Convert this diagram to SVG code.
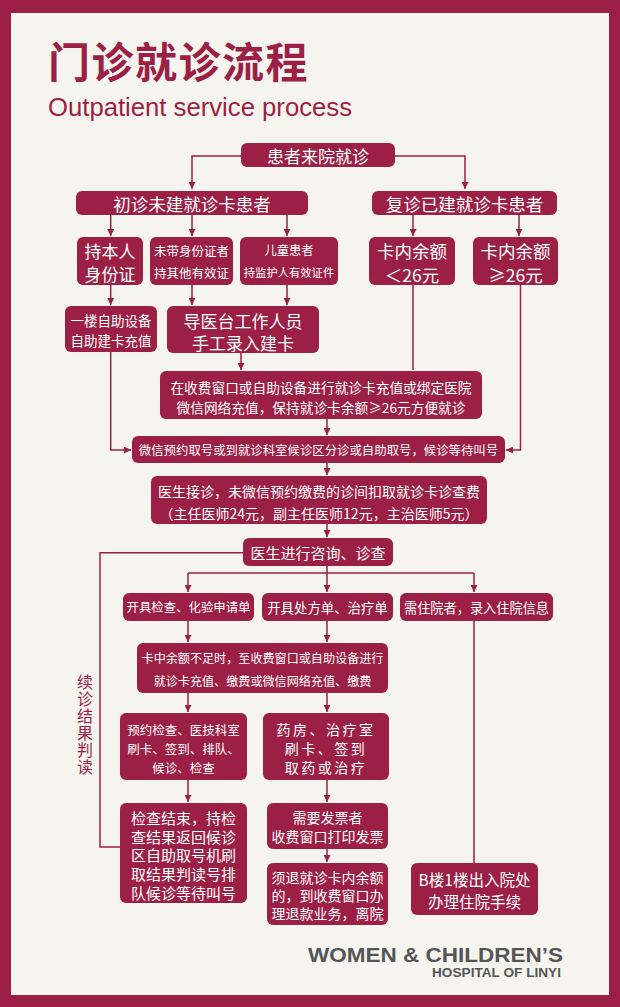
<svg xmlns="http://www.w3.org/2000/svg" width="620" height="1007" viewBox="0 0 620 1007">
<style>
.bx{fill:#9c1f45}
.t{fill:#fff;font-family:"Noto Sans CJK SC","Liberation Sans",sans-serif;text-anchor:middle;dominant-baseline:central}
.c{fill:none;stroke:#9c1f45;stroke-width:1.5}
</style>
<defs>
<marker id="ah" viewBox="0 0 8 8" refX="8" refY="4" markerWidth="7" markerHeight="7" markerUnits="userSpaceOnUse" orient="auto">
<path d="M0,0 L8,4 L0,8 Z" fill="#9c1f45"/>
</marker>
</defs>
<rect x="0" y="0" width="620" height="1007" fill="#9e1f46"/>
<rect x="11" y="13" width="598" height="982" fill="#f6f4ee"/>
<g id="title">
<text x="48" y="59" fill="#9c1f45" font-family="'Noto Sans CJK SC',sans-serif" font-weight="bold" font-size="42" letter-spacing="1.5" dominant-baseline="central">门诊就诊流程<tspan x="48" y="107" font-family="'Liberation Sans',sans-serif" font-weight="normal" font-size="25" letter-spacing="0" dominant-baseline="auto" textLength="304" lengthAdjust="spacingAndGlyphs">Outpatient service process</tspan></text>
</g>

<g id="connectors">
<path class="c" d="M241,156 H192 V189" marker-end="url(#ah)"/>
<path class="c" d="M395,156 H465 V189" marker-end="url(#ah)"/>
<path class="c" d="M110.7,215 V236" marker-end="url(#ah)"/>
<path class="c" d="M192,215 V236" marker-end="url(#ah)"/>
<path class="c" d="M287,215 V236" marker-end="url(#ah)"/>
<path class="c" d="M413,215 V236" marker-end="url(#ah)"/>
<path class="c" d="M519,215 V236" marker-end="url(#ah)"/>
<path class="c" d="M110.7,285 V305" marker-end="url(#ah)"/>
<path class="c" d="M192,285 V305" marker-end="url(#ah)"/>
<path class="c" d="M287,285 V305" marker-end="url(#ah)"/>
<path class="c" d="M241,353 V370" marker-end="url(#ah)"/>
<path class="c" d="M413,285 V370"/>
<path class="c" d="M327,419 V435" marker-end="url(#ah)"/>
<path class="c" d="M110.7,352 V450 H131" marker-end="url(#ah)"/>
<path class="c" d="M520.5,285 V450 H506" marker-end="url(#ah)"/>
<path class="c" d="M327,463 V475" marker-end="url(#ah)"/>
<path class="c" d="M327,524 V537" marker-end="url(#ah)"/>
<path class="c" d="M327,566 V592" marker-end="url(#ah)"/>
<path class="c" d="M188,573 H474"/>
<path class="c" d="M188,573 V592" marker-end="url(#ah)"/>
<path class="c" d="M474,573 V592" marker-end="url(#ah)"/>
<path class="c" d="M188,621 V642" marker-end="url(#ah)"/>
<path class="c" d="M327,621 V642" marker-end="url(#ah)"/>
<path class="c" d="M188,693 V712" marker-end="url(#ah)"/>
<path class="c" d="M327,693 V712" marker-end="url(#ah)"/>
<path class="c" d="M188,780 V802" marker-end="url(#ah)"/>
<path class="c" d="M327,780 V802" marker-end="url(#ah)"/>
<path class="c" d="M327,849 V862" marker-end="url(#ah)"/>
<path class="c" d="M474,621 V863"/>
<path class="c" d="M120,847 H100 V552.7 H243"/>
</g>

<g id="n1"><rect class="bx" x="241" y="143" width="154" height="24" rx="6"/><text class="t" x="318" y="155" font-size="17">患者来院就诊</text></g>
<g id="n2"><rect class="bx" x="76" y="191" width="232" height="24" rx="6"/><text class="t" x="192" y="203" font-size="17.5">初诊未建就诊卡患者</text></g>
<g id="n3"><rect class="bx" x="372" y="191" width="185" height="24" rx="6"/><text class="t" x="464.5" y="203" font-size="17.5">复诊已建就诊卡患者</text></g>
<g id="n4"><rect class="bx" x="77" y="237" width="66" height="48" rx="6"/><text class="t" font-size="17"><tspan x="110" y="250">持本人</tspan><tspan x="110" y="272.5">身份证</tspan></text></g>
<g id="n5"><rect class="bx" x="150" y="237" width="83" height="48" rx="6"/><text class="t" font-size="12.5"><tspan x="191.5" y="250">未带身份证者</tspan><tspan x="191.5" y="272">持其他有效证</tspan></text></g>
<g id="n6"><rect class="bx" x="240" y="237" width="98" height="48" rx="6"/><text class="t" font-size="12.3"><tspan x="289" y="250">儿童患者</tspan><tspan x="289" y="272" font-size="11.3">持监护人有效证件</tspan></text></g>
<g id="n7"><rect class="bx" x="369" y="237" width="86" height="48" rx="6"/><text class="t" font-size="17.5"><tspan x="412" y="250">卡内余额</tspan><tspan x="412" y="273.5">＜26元</tspan></text></g>
<g id="n8"><rect class="bx" x="473" y="237" width="85" height="48" rx="6"/><text class="t" font-size="17.5"><tspan x="515.5" y="250">卡内余额</tspan><tspan x="515.5" y="273.5">≥26元</tspan></text></g>
<g id="n9"><rect class="bx" x="65" y="306" width="92" height="46" rx="6"/><text class="t" font-size="13.5"><tspan x="111" y="319.5">一楼自助设备</tspan><tspan x="111" y="340">自助建卡充值</tspan></text></g>
<g id="n10"><rect class="bx" x="167" y="306" width="152" height="47" rx="6"/><text class="t" font-size="17"><tspan x="243" y="319.5">导医台工作人员</tspan><tspan x="243" y="341.5">手工录入建卡</tspan></text></g>
<g id="n11"><rect class="bx" x="160" y="371" width="322" height="48" rx="6"/><text class="t" font-size="13.7"><tspan x="321" y="386.7">在收费窗口或自助设备进行就诊卡充值或绑定医院</tspan><tspan x="321" y="406.7">微信网络充值，保持就诊卡余额≥26元方便就诊</tspan></text></g>
<g id="n12"><rect class="bx" x="132" y="436" width="373" height="27" rx="6"/><text class="t" x="318.5" y="450" font-size="12.4">微信预约取号或到就诊科室候诊区分诊或自助取号，候诊等待叫号</text></g>
<g id="n13"><rect class="bx" x="151" y="476" width="336" height="48" rx="6"/><text class="t" font-size="14"><tspan x="319" y="490.7">医生接诊，未微信预约缴费的诊间扣取就诊卡诊查费</tspan><tspan x="319" y="513.3">（主任医师24元，副主任医师12元，主治医师5元）</tspan></text></g>
<g id="n14"><rect class="bx" x="243" y="538" width="150" height="28" rx="6"/><text class="t" x="318" y="552.5" font-size="15">医生进行咨询、诊查</text></g>
<g id="n15"><rect class="bx" x="123" y="593" width="131" height="28" rx="6"/><text class="t" x="188.5" y="607.3" font-size="12.4">开具检查、化验申请单</text></g>
<g id="n16"><rect class="bx" x="262" y="593" width="131" height="28" rx="6"/><text class="t" x="327.5" y="607.3" font-size="13.4">开具处方单、治疗单</text></g>
<g id="n17"><rect class="bx" x="400" y="593" width="153" height="28" rx="6"/><text class="t" x="476.5" y="607.3" font-size="13.2">需住院者，录入住院信息</text></g>
<g id="n18"><rect class="bx" x="137" y="643" width="251" height="50" rx="6"/><text class="t" font-size="12.1"><tspan x="262.5" y="657.3">卡中余额不足时，至收费窗口或自助设备进行</tspan><tspan x="262.5" y="680">就诊卡充值、缴费或微信网络充值、缴费</tspan></text></g>
<g id="n19"><rect class="bx" x="120" y="713" width="127" height="67" rx="6"/><text class="t" font-size="12.5"><tspan x="183.5" y="729.3">预约检查、医技科室</tspan><tspan x="183.5" y="748.3">刷卡、签到、排队、</tspan><tspan x="183.5" y="766.7">候诊、检查</tspan></text></g>
<g id="n20"><rect class="bx" x="263" y="713" width="126" height="67" rx="6"/><text class="t" font-size="14" letter-spacing="2.5"><tspan x="326" y="729.3">药房、治疗室</tspan><tspan x="326" y="748.3">刷卡、签到</tspan><tspan x="326" y="766.7">取药或治疗</tspan></text></g>
<g id="n21"><rect class="bx" x="120" y="803" width="127" height="100" rx="6"/><text class="t" font-size="15"><tspan x="183.5" y="816.7">检查结束，持检</tspan><tspan x="183.5" y="835.5">查结果返回候诊</tspan><tspan x="183.5" y="854.3">区自助取号机刷</tspan><tspan x="183.5" y="873.2">取结果判读号排</tspan><tspan x="183.5" y="891.7">队候诊等待叫号</tspan></text></g>
<g id="n22"><rect class="bx" x="267" y="803" width="121" height="46" rx="6"/><text class="t" font-size="14"><tspan x="327.5" y="816.7">需要发票者</tspan><tspan x="327.5" y="835.7">收费窗口打印发票</tspan></text></g>
<g id="n23"><rect class="bx" x="267" y="863" width="121" height="62" rx="6"/><text class="t" font-size="14"><tspan x="327.5" y="876.7">须退就诊卡内余额</tspan><tspan x="327.5" y="895">的，到收费窗口办</tspan><tspan x="327.5" y="913.3">理退款业务，离院</tspan></text></g>
<g id="n24"><rect class="bx" x="411" y="863" width="127" height="52" rx="6"/><text class="t" font-size="15.5"><tspan x="474.5" y="879.3">B楼1楼出入院处</tspan><tspan x="474.5" y="900.7">办理住院手续</tspan></text></g>

<g id="label">
<text x="85" y="673.7" fill="#9c1f45" font-family="'Noto Sans CJK SC',sans-serif" font-size="16" letter-spacing="1" style="writing-mode:vertical-rl">续诊结果判读</text>
</g>
<g id="footer">
<text fill="#555" font-family="'Liberation Sans',sans-serif" font-weight="bold" text-anchor="end"><tspan x="563" y="962" font-size="21" textLength="255" lengthAdjust="spacingAndGlyphs">WOMEN &amp; CHILDREN’S</tspan><tspan x="561" y="977" font-size="12" textLength="129" lengthAdjust="spacingAndGlyphs">HOSPITAL OF LINYI</tspan></text>
</g>
</svg>
